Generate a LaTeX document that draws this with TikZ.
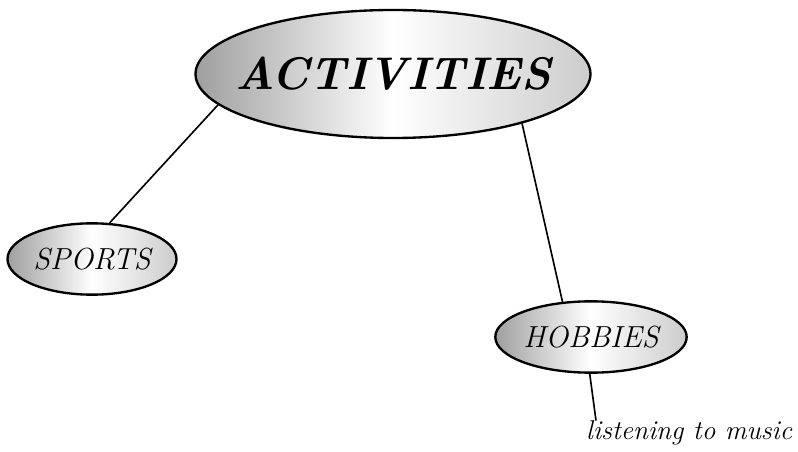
\documentclass[tikz,border=0pt]{standalone}
\usepackage{tikz}
\usetikzlibrary{shapes.geometric, calc}

\begin{document}
\begin{tikzpicture}[
    x=0.03cm, y=-0.03cm,
    bubble/.style ={ellipse, draw=black, line width=2pt, inner sep=0pt,
                    left color=gray!75, right color=gray!40, middle color=white},
    topic/.style  ={bubble, inner xsep=-0.55cm, minimum width=11.76cm, minimum height=3.84cm,
                    font=\fontsize{39}{43}\selectfont\bfseries\itshape},
    sub/.style    ={bubble, minimum height=2.14cm,
                    font=\fontsize{26}{30}\selectfont\itshape},
    leaf/.style   ={inner sep=0pt, font=\fontsize{23.2}{27}\selectfont\itshape},
    link/.style   ={draw=black, line width=1.4pt},
]
\useasboundingbox (0,0) rectangle (798,452);

% ---- Nodes ----
\node[topic] (act) at (393,74) {ACTIVITIES};
\node[sub, minimum width=5.07cm] (sports) at (92,259) {SPORTS};
\node[sub, minimum width=5.49cm] (hobbies) at (591,337) {HOBBIES};
\node[leaf, anchor=west] (music) at (586,433) {listening to music};

% ---- Links ----
\draw[link] (act.190) -- (sports.64);
\draw[link] (act.339) -- (hobbies.129);
\draw[link] (hobbies.268) -- ([xshift=0.3cm]music.north west);

\end{tikzpicture}
\end{document}
